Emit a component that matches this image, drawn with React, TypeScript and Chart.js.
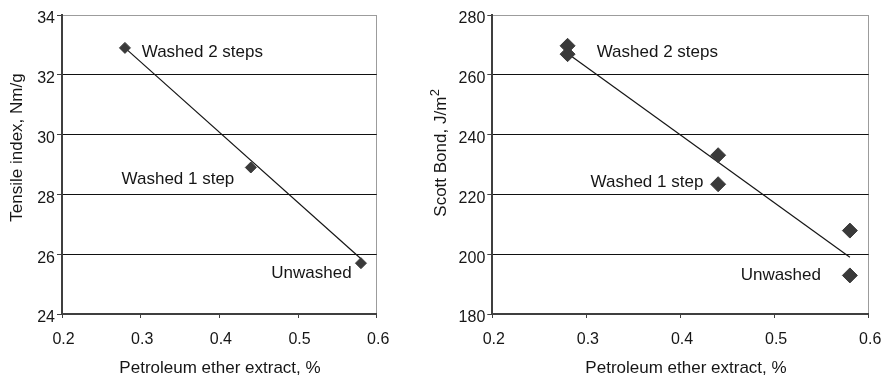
import React, { useEffect, useRef } from 'react';
import { Chart, registerables } from 'chart.js';

Chart.register(...registerables);

// ---------- data ----------
const xTicks = [0.2, 0.3, 0.4, 0.5, 0.6];
const tensileTicks = [24, 26, 28, 30, 32, 34];
const scottTicks = [180, 200, 220, 240, 260, 280];

const tensileX = [0.28, 0.44, 0.58];
const tensileY = [32.9, 28.9, 25.7];
const tensileTrendX = [0.28, 0.58];
const tensileTrendY = [32.9, 25.85];

const scottX = [0.28, 0.28, 0.44, 0.44, 0.58, 0.58];
const scottY = [269.7, 266.9, 233.1, 223.4, 207.9, 192.9];
const scottTrendX = [0.28, 0.58];
const scottTrendY = [267.1, 199.0];

const groupLabels = ['Washed 2 steps', 'Washed 1 step', 'Unwashed'];
const tensileLabelPoint = [0, 1, 2];
const scottLabelPoint = [0, 3, 5];

const xTitle = 'Petroleum ether extract, %';
const tensileTitle = 'Tensile index, Nm/g';
const scottTitle = 'Scott Bond, J/m';
const scottTitleSup = '2';

// ---------- style ----------
const FONT = '"Liberation Sans", Arial, Helvetica, sans-serif';
const TEXT = '#161616';
const MARK = '#3a3a3a';
const AXIS = '#3f3f3f';
const GRID = '#111111';
const FRAME = '#9c9c9c';

type LabelStyle = { align: CanvasTextAlign; dx: number; dy: number };

type PanelCfg = {
  left: number;
  width: number;
  yAxisWidth: number;
  padRight: number;
  xs: number[];
  ys: number[];
  trendX: number[];
  trendY: number[];
  yTicks: number[];
  pointRadius: number;
  labelPoint: number[];
  labelStyle: LabelStyle[];
  yTitle: string;
  yTitleSup?: string;
  yTitleBaseX: number;
  yTitleStartY: number;
  xTitleCenter: number;
  xTitleBase: number;
};

const panels: PanelCfg[] = [
  {
    left: 0,
    width: 440,
    yAxisWidth: 62,
    padRight: 63.3,
    xs: tensileX,
    ys: tensileY,
    trendX: tensileTrendX,
    trendY: tensileTrendY,
    yTicks: tensileTicks,
    pointRadius: 5.5,
    labelPoint: tensileLabelPoint,
    labelStyle: [
      { align: 'left', dx: 16.8, dy: 9.4 },
      { align: 'right', dx: -16.5, dy: 16.8 },
      { align: 'right', dx: -9.3, dy: 15.1 },
    ],
    yTitle: tensileTitle,
    yTitleBaseX: 21.5,
    yTitleStartY: 221.7,
    xTitleCenter: 220,
    xTitleBase: 373,
  },
  {
    left: 420,
    width: 465,
    yAxisWidth: 72.3,
    padRight: 16.3,
    xs: scottX,
    ys: scottY,
    trendX: scottTrendX,
    trendY: scottTrendY,
    yTicks: scottTicks,
    pointRadius: 7.5,
    labelPoint: scottLabelPoint,
    labelStyle: [
      { align: 'left', dx: 29.1, dy: 11.5 },
      { align: 'right', dx: -14.8, dy: 2.3 },
      { align: 'right', dx: -28.9, dy: 4.9 },
    ],
    yTitle: scottTitle,
    yTitleSup: scottTitleSup,
    yTitleBaseX: 25.5,
    yTitleStartY: 216.7,
    xTitleCenter: 266,
    xTitleBase: 373,
  },
];

function buildChart(canvas: HTMLCanvasElement, p: PanelCfg) {
  const textPlugin = {
    id: 'panelText',
    afterDraw(chart: any) {
      const ctx: CanvasRenderingContext2D = chart.ctx;
      const sx = chart.scales.x;
      const sy = chart.scales.y;
      ctx.save();
      ctx.fillStyle = TEXT;
      ctx.font = `17px ${FONT}`;
      ctx.textBaseline = 'alphabetic';
      groupLabels.forEach((t, i) => {
        const idx = p.labelPoint[i];
        const st = p.labelStyle[i];
        ctx.textAlign = st.align;
        ctx.fillText(
          t,
          sx.getPixelForValue(p.xs[idx]) + st.dx,
          sy.getPixelForValue(p.ys[idx]) + st.dy
        );
      });
      ctx.textAlign = 'center';
      ctx.fillText(xTitle, p.xTitleCenter, p.xTitleBase);
      ctx.save();
      ctx.translate(p.yTitleBaseX, p.yTitleStartY);
      ctx.rotate(-Math.PI / 2);
      ctx.textAlign = 'left';
      ctx.fillText(p.yTitle, 0, 0);
      if (p.yTitleSup) {
        const w = ctx.measureText(p.yTitle).width;
        ctx.font = `13px ${FONT}`;
        ctx.fillText(p.yTitleSup, w + 0.5, -7);
      }
      ctx.restore();
      ctx.restore();
    },
  };

  const lastX = xTicks.length - 1;
  const lastY = p.yTicks.length - 1;
  const noPad = (s: any) => {
    s.paddingLeft = 0;
    s.paddingRight = 0;
    s.paddingTop = 0;
    s.paddingBottom = 0;
  };

  return new Chart(canvas, {
    type: 'scatter',
    data: {
      datasets: [
        {
          data: p.xs.map((x, i) => ({ x, y: p.ys[i] })),
          pointStyle: 'rectRot',
          pointRadius: p.pointRadius,
          pointHoverRadius: p.pointRadius,
          pointBackgroundColor: MARK,
          pointBorderColor: MARK,
          pointBorderWidth: 1,
          showLine: false,
        },
        {
          data: p.trendX.map((x, i) => ({ x, y: p.trendY[i] })),
          showLine: true,
          borderColor: '#151515',
          borderWidth: 1.2,
          pointRadius: 0,
          pointHoverRadius: 0,
          fill: false,
        },
      ],
    },
    options: {
      animation: false,
      responsive: false,
      events: [],
      layout: { padding: { left: 0, top: 15, right: p.padRight, bottom: 0 } },
      plugins: { legend: { display: false }, tooltip: { enabled: false } },
      scales: {
        x: {
          type: 'linear',
          min: xTicks[0],
          max: xTicks[lastX],
          afterBuildTicks: (s: any) => {
            s.ticks = xTicks.map((v) => ({ value: v }));
          },
          afterFit: (s: any) => {
            s.height = 61;
            noPad(s);
          },
          ticks: {
            color: TEXT,
            font: { family: FONT, size: 16 },
            padding: 12,
            labelOffset: 1.5,
            maxRotation: 0,
            callback: (v: any) => Number(v).toFixed(1),
          },
          grid: {
            color: (c: any) => (c.index === lastX ? FRAME : 'rgba(0,0,0,0)'),
            tickColor: AXIS,
            tickLength: 4,
            lineWidth: 1,
          },
          border: { display: true, color: AXIS, width: 2 },
          title: { display: false },
        },
        y: {
          type: 'linear',
          min: p.yTicks[0],
          max: p.yTicks[lastY],
          afterBuildTicks: (s: any) => {
            s.ticks = p.yTicks.map((v) => ({ value: v }));
          },
          afterFit: (s: any) => {
            s.width = p.yAxisWidth;
            noPad(s);
          },
          ticks: {
            color: TEXT,
            font: { family: FONT, size: 16 },
            padding: 2,
            labelOffset: 4,
            callback: (v: any) => String(v),
          },
          grid: {
            color: (c: any) => (c.index === lastY ? FRAME : GRID),
            tickColor: AXIS,
            tickLength: 5,
            lineWidth: 1,
          },
          border: { display: true, color: AXIS, width: 2 },
          title: { display: false },
        },
      },
    },
    plugins: [textPlugin],
  } as any);
}

function Panel({ p }: { p: PanelCfg }) {
  const ref = useRef<HTMLCanvasElement>(null);
  useEffect(() => {
    if (!ref.current) return;
    const chart = buildChart(ref.current, p);
    return () => chart.destroy();
  }, [p]);
  return (
    <canvas
      ref={ref}
      width={p.width}
      height={375}
      style={{ position: 'absolute', left: p.left, top: 0, width: p.width, height: 375 }}
    />
  );
}

export default function App() {
  return (
    <div
      style={{
        position: 'fixed',
        left: 0,
        top: 0,
        width: 885,
        height: 375,
        background: '#ffffff',
        overflow: 'hidden',
      }}
    >
      {panels.map((p, i) => (
        <Panel key={i} p={p} />
      ))}
    </div>
  );
}
